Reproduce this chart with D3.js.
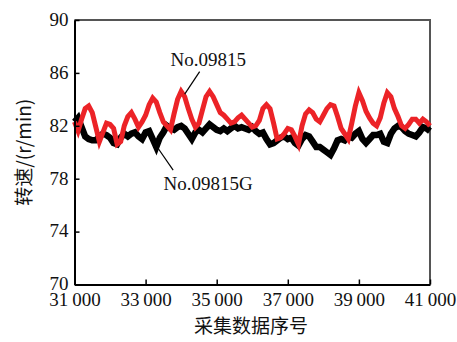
<!DOCTYPE html>
<html>
<head>
<meta charset="utf-8">
<script src="https://cdn.jsdelivr.net/npm/d3@7/dist/d3.min.js"></script>
<style>
  body { margin: 0; background: #fff; }
  svg { display: block; }
</style>
</head>
<body>
<svg id="chart" width="457" height="342"></svg>
<script>
// sample numbers: first sample and step between stored points
const startSample = 31000;
const sampleStep = 100;

// No.09815 (red), every 100 samples
const redValues = [
  82.3, 81.6, 82.5, 83.3, 83.5, 83.0, 81.9, 80.8, 81.5, 82.2,
  82.1, 81.8, 80.6, 80.8, 82.0, 82.7, 83.0, 82.5, 81.9, 82.3,
  82.8, 83.6, 84.1, 83.8, 83.0, 82.3, 82.0, 81.7, 82.9, 84.0,
  84.6, 84.2, 83.3, 82.5, 81.9, 82.2, 83.2, 84.2, 84.6, 84.2,
  83.6, 83.0, 82.8, 82.5, 82.2, 82.3, 82.6, 82.8, 82.5, 82.2,
  81.9, 82.0, 82.4, 83.3, 83.6, 83.3, 82.2, 81.0, 81.1, 81.4,
  81.8, 81.7, 81.2, 80.6, 82.0, 82.9, 83.2, 83.0, 82.5, 82.3,
  82.8, 83.3, 83.6, 83.5, 82.7, 81.8, 81.4, 81.0, 82.2, 83.5,
  84.5, 83.9, 83.1, 82.6, 82.2, 82.0, 82.6, 83.7, 84.5, 84.2,
  83.3, 82.7, 82.0, 81.8, 82.1, 82.5, 82.5, 82.2, 82.5, 82.3,
  82.0
];

// No.09815G (black)
const blackValues = [
  82.3, 82.6, 81.9, 81.2, 81.0, 80.9, 80.9, 81.2, 81.4, 81.3,
  81.1, 80.7, 80.6, 81.1, 81.4, 81.2, 81.4, 81.5, 81.2, 81.0,
  81.5, 81.6, 81.0, 80.4, 81.1, 81.5, 82.0, 81.8, 81.7, 81.9,
  82.0, 81.8, 81.4, 81.0, 81.5, 81.7, 81.5, 81.8, 82.1, 81.9,
  81.7, 81.6, 81.8, 81.6, 81.8, 82.0, 81.8, 81.9, 81.8, 81.7,
  81.9, 81.6, 81.4, 81.5, 81.0, 80.6, 80.7, 80.9, 81.1, 81.2,
  81.0, 81.1, 80.7, 80.5, 81.0, 81.3, 81.2, 80.8, 80.4, 80.4,
  80.2, 80.0, 79.8, 80.3, 80.9, 81.0, 80.9, 81.2, 81.1, 81.4,
  81.6, 81.0, 80.7, 81.0, 81.3, 81.3, 81.4, 80.8, 80.7, 81.4,
  81.8, 82.0, 81.9, 81.6, 81.4, 81.3, 81.2, 81.5, 81.9, 81.8,
  81.6
];

const xTicks = [31000, 33000, 35000, 37000, 39000, 41000];
const xTickLabels = ["31\u2009000", "33\u2009000", "35\u2009000", "37\u2009000", "39\u2009000", "41\u2009000"];
const yTicks = [70, 74, 78, 82, 86, 90];

const serif = "'Times New Roman', 'Liberation Serif', 'DejaVu Serif', serif";
const cjk = "'Noto Sans CJK SC', sans-serif";

const svg = d3.select("#chart");

const x = d3.scaleLinear().domain([31000, 41000]).range([74.5, 430]);
const y = d3.scaleLinear().domain([70, 90]).range([284.5, 20]);

// frame on top and right
svg.append("path")
  .attr("d", `M${x(31000)},${y(90)}H${x(41000)}V${y(70)}`)
  .attr("fill", "none")
  .attr("stroke", "#555")
  .attr("stroke-width", 2);

function toPoints(values) {
  return values.map((v, i) => ({ s: startSample + i * sampleStep, v: v }));
}

const line = d3.line()
  .x(d => x(d.s))
  .y(d => y(d.v));

svg.append("path")
  .datum(toPoints(blackValues))
  .attr("d", line)
  .attr("fill", "none")
  .attr("stroke", "#000")
  .attr("stroke-width", 6.5)
  .attr("stroke-linejoin", "miter");

svg.append("path")
  .datum(toPoints(redValues))
  .attr("d", line)
  .attr("fill", "none")
  .attr("stroke", "#ec2327")
  .attr("stroke-width", 5)
  .attr("stroke-linejoin", "miter");

// axes
const xAxis = svg.append("g")
  .attr("transform", `translate(0,${y(70)})`)
  .call(d3.axisBottom(x)
    .tickValues(xTicks)
    .tickFormat((d, i) => xTickLabels[i])
    .tickSizeInner(-5)
    .tickSizeOuter(0)
    .tickPadding(8));

const yAxis = svg.append("g")
  .attr("transform", `translate(${x(31000)},0)`)
  .call(d3.axisLeft(y)
    .tickValues(yTicks)
    .tickSizeInner(-5)
    .tickSizeOuter(0)
    .tickPadding(6));

[xAxis, yAxis].forEach(g => {
  g.select(".domain").attr("stroke", "#000").attr("stroke-width", 2);
  g.selectAll(".tick line").attr("stroke", "#000").attr("stroke-width", 1.5);
  g.selectAll(".tick text")
    .attr("fill", "#111")
    .style("font-family", serif)
    .style("font-size", "19px");
});
yAxis.selectAll(".tick text").attr("dy", "0.28em");

// axis titles
svg.append("text")
  .attr("x", 251)
  .attr("y", 333)
  .attr("text-anchor", "middle")
  .style("font-family", cjk)
  .style("font-size", "19px")
  .attr("fill", "#111")
  .text("采集数据序号");

svg.append("text")
  .attr("transform", `translate(31,${(y(70) + y(90)) / 2}) rotate(-90)`)
  .attr("text-anchor", "middle")
  .style("font-family", cjk + "," + serif)
  .style("font-size", "19px")
  .attr("fill", "#111")
  .text("转速/(r/min)");

// series labels with leader lines
const notes = [
  { label: "No.09815", tx: 34760, ty: 86.5, from: [34520, 86.1], to: [34100, 84.4] },
  { label: "No.09815G", tx: 34760, ty: 77.15, from: [33775, 78.65], to: [33350, 80.3] }
];

notes.forEach(n => {
  svg.append("line")
    .attr("x1", x(n.from[0])).attr("y1", y(n.from[1]))
    .attr("x2", x(n.to[0])).attr("y2", y(n.to[1]))
    .attr("stroke", "#000")
    .attr("stroke-width", 1.2);
  svg.append("text")
    .attr("x", x(n.tx))
    .attr("y", y(n.ty))
    .attr("text-anchor", "middle")
    .style("font-family", serif)
    .style("font-size", "19px")
    .attr("fill", "#111")
    .text(n.label);
});
</script>
</body>
</html>
